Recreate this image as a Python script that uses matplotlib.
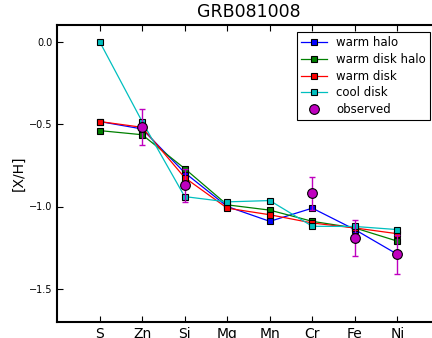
import matplotlib
matplotlib.use("Agg")
import matplotlib.pyplot as plt
import numpy as np

elements = ["S", "Zn", "Si", "Mg", "Mn", "Cr", "Fe", "Ni"]
warm_halo = [-0.485, -0.53, -0.795, -1.00, -1.09, -1.01, -1.14, -1.29]
warm_disk_halo = [-0.54, -0.565, -0.77, -0.99, -1.022, -1.09, -1.13, -1.21]
warm_disk = [-0.485, -0.52, -0.825, -1.01, -1.05, -1.10, -1.13, -1.165]
cool_disk = [0.0, -0.485, -0.94, -0.972, -0.964, -1.12, -1.121, -1.14]
obs_elements = ["Zn", "Si", "Cr", "Fe", "Ni"]
obs_values = [-0.52, -0.87, -0.92, -1.19, -1.29]
obs_errors = [0.11, 0.10, 0.10, 0.11, 0.12]
yticks = [0.0, -0.5, -1.0, -1.5]

fig = plt.figure(figsize=(4.32, 3.38), dpi=100)
ax = fig.add_axes([57/432, 16/338, 383/432, 297/338])

x = np.arange(1, len(elements) + 1)
xo = np.array([elements.index(e) + 1 for e in obs_elements])

series = [(warm_halo, "b", "warm halo"),
          (warm_disk_halo, "g", "warm disk halo"),
          (warm_disk, "r", "warm disk"),
          (cool_disk, "c", "cool disk")]
for vals, col, lab in series:
    ax.plot(x, vals, "-s", color=col, lw=0.9, ms=4.5, mec="k", mew=0.8, label=lab)

ax.errorbar(xo, obs_values, yerr=obs_errors, fmt="none", ecolor="m", elinewidth=1, capsize=2.5, zorder=3)
ax.plot(xo, obs_values, "o", color="m", ms=7, mec="k", mew=0.8, label="observed", zorder=4)

ax.set_xlim(0, 9)
ax.set_ylim(-1.7, 0.1)
ax.set_xticks(x)
ax.set_xticklabels(elements, fontsize=10)
ax.set_yticks(yticks)
ax.set_yticklabels([f"{v:.1f}".replace("-", "\u2212") for v in yticks], fontsize=7)
ax.tick_params(direction="in", top=True, right=True, length=4, width=0.8)
for s in ax.spines.values():
    s.set_linewidth(1.5)

ax.set_ylabel("[X/H]", fontsize=10, labelpad=2)
ax.set_title("GRB081008", fontsize=12.5, pad=6)

leg = ax.legend(loc="upper right", bbox_to_anchor=(430/432, (338-32)/338),
                bbox_transform=fig.transFigure, borderaxespad=0, fontsize=8.5,
                numpoints=1, fancybox=False, framealpha=1, labelspacing=0.32,
                handlelength=2.2, borderpad=0.35)
leg.get_frame().set_edgecolor("k")
leg.get_frame().set_linewidth(0.8)

fig.savefig("out.png", dpi=100)
